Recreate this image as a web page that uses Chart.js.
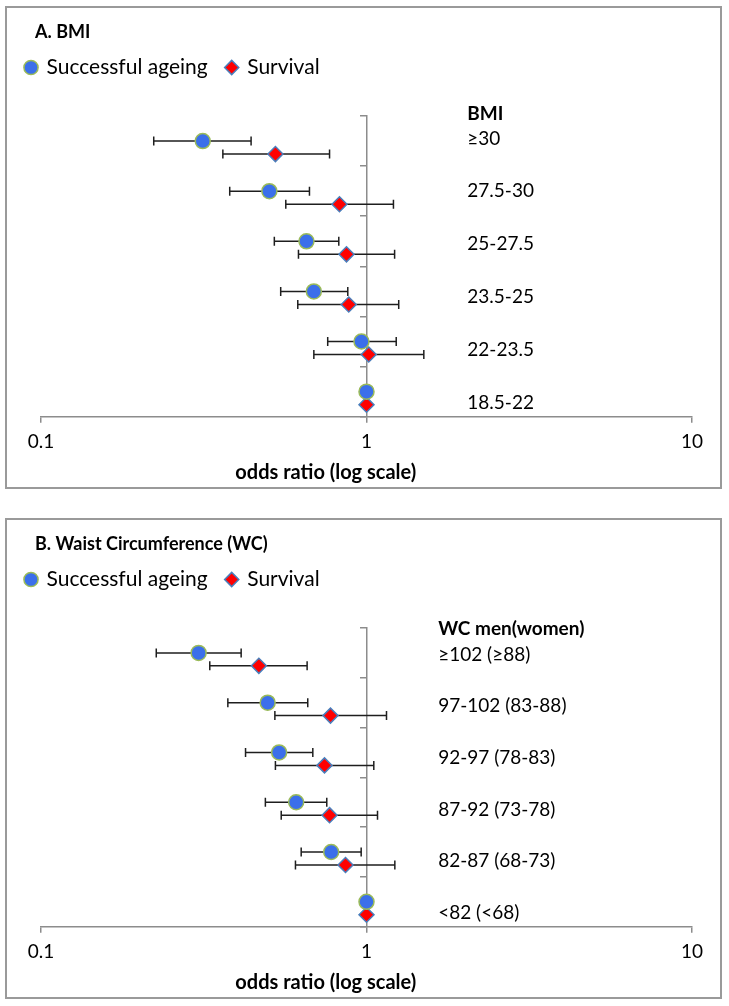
<!DOCTYPE html>
<html>
<head>
<meta charset="utf-8">
<script src="https://cdn.jsdelivr.net/npm/chart.js@4.4.1/dist/chart.umd.min.js"></script>
<style>
  body { margin: 0; background: #fff; width: 729px; height: 1006px; position: relative; }
  .panel { position: absolute; left: 5px; width: 713px; border: 2px solid #9a9a9a; }
  #boxA { top: 6px; height: 479px; }
  #boxB { top: 518px; height: 477px; }
  canvas { display: block; }
</style>
</head>
<body>
<div class="panel" id="boxA"><canvas id="chartA" width="713" height="479"></canvas></div>
<div class="panel" id="boxB"><canvas id="chartB" width="713" height="477"></canvas></div>
<script>
// Odds ratios (log scale) per category, top to bottom
const seriesNames = ['Successful ageing', 'Survival'];
const xTicks = [0.1, 1, 10];
const xTickLabels = ['0.1', '1', '10'];

// A. BMI
const bmiCategories = ['≥30', '27.5-30', '25-27.5', '23.5-25', '22-23.5', '18.5-22'];
const bmiAgeing = [0.314, 0.503, 0.654, 0.689, 0.965, 1];
const bmiAgeingLow = [0.222, 0.380, 0.521, 0.545, 0.760, null];
const bmiAgeingHigh = [0.442, 0.668, 0.822, 0.876, 1.234, null];
const bmiSurvival = [0.525, 0.826, 0.868, 0.882, 1.016, 1];
const bmiSurvivalLow = [0.362, 0.565, 0.618, 0.615, 0.689, null];
const bmiSurvivalHigh = [0.770, 1.21, 1.22, 1.256, 1.50, null];

// B. Waist circumference
const wcCategories = ['≥102 (≥88)', '97-102 (83-88)', '92-97 (78-83)', '87-92 (73-78)', '82-87 (68-73)', '<82 (<68)'];
const wcAgeing = [0.305, 0.497, 0.539, 0.608, 0.779, 1];
const wcAgeingLow = [0.226, 0.375, 0.425, 0.489, 0.630, null];
const wcAgeingHigh = [0.412, 0.660, 0.684, 0.755, 0.963, null];
const wcSurvival = [0.467, 0.775, 0.743, 0.770, 0.862, 1];
const wcSurvivalLow = [0.330, 0.523, 0.525, 0.547, 0.605, null];
const wcSurvivalHigh = [0.657, 1.152, 1.053, 1.081, 1.222, null];

Chart.defaults.font.family = 'Lato, "Open Sans", sans-serif';
Chart.defaults.color = '#000';

const axisGrey = '#8c8c8c';
const barColor = '#1e1e1e';
const styles = [
    { pointStyle: 'circle', backgroundColor: '#3b6fea', borderColor: '#9bbb59', radius: 7.5, rowOffset: 0.5 },
    { pointStyle: 'rectRot', backgroundColor: '#ff0000', borderColor: '#4a7ebb', radius: 7.5, rowOffset: 0.76 }
];

// labels on the right of the axis + heading + axis title
const textPlugin = {
    id: 'panelText',
    afterDraw(chart, args, opts) {
        const { ctx, chartArea } = chart;
        const xs = chart.scales.x, ys = chart.scales.y;
        ctx.save();
        ctx.fillStyle = '#000';
        ctx.textBaseline = 'middle';
        ctx.textAlign = 'left';
        ctx.font = 'bold 18px Lato';
        ctx.fillText(opts.heading, 28, 24);
        ctx.font = 'bold 19px Lato';
        ctx.fillText(opts.header, xs.getPixelForValue(opts.labelX), ys.getPixelForValue(opts.headerY));
        ctx.font = '19px Lato';
        opts.categories.forEach((c, i) => {
            ctx.fillText(c, xs.getPixelForValue(opts.labelX), ys.getPixelForValue(i + opts.labelY0 + i * opts.labelStep));
        });
        ctx.textAlign = 'center';
        ctx.font = 'bold 20px Lato';
        ctx.fillText('odds ratio (log scale)', xs.getPixelForValue(0.75), chartArea.bottom + 56);
        ctx.restore();
    }
};

function buildDatasets(values, lows, highs) {
    const sets = [];
    values.forEach((vals, s) => {
        const st = styles[s];
        sets.push({
            label: seriesNames[s],
            data: vals.map((v, i) => ({ x: v, y: i + st.rowOffset })),
            pointStyle: st.pointStyle,
            backgroundColor: st.backgroundColor,
            borderColor: st.borderColor,
            borderWidth: 1.5,
            pointRadius: st.radius,
            order: 0
        });
        // error bars, one small line per category
        vals.forEach((v, i) => {
            if (lows[s][i] == null) return;
            sets.push({
                label: 'ci',
                data: [{ x: lows[s][i], y: i + st.rowOffset }, { x: highs[s][i], y: i + st.rowOffset }],
                showLine: true,
                borderColor: barColor,
                borderWidth: 1.5,
                pointStyle: 'line',
                pointRotation: 90,
                pointRadius: 4.5,
                pointBorderColor: barColor,
                pointBorderWidth: 1.5,
                order: 1
            });
        });
    });
    return sets;
}

function makeChart(id, cfg) {
    new Chart(document.getElementById(id), {
        type: 'scatter',
        data: { datasets: buildDatasets(cfg.values, cfg.lows, cfg.highs) },
        options: {
            responsive: false,
            animation: false,
            events: [],
            layout: { padding: { top: 30, left: 0, right: 28, bottom: 25.5 } },
            plugins: {
                legend: {
                    position: 'top',
                    align: 'start',
                    labels: {
                        usePointStyle: true,
                        boxWidth: 10,
                        boxHeight: 10,
                        padding: 19,
                        font: { size: 21 },
                        filter: item => item.text !== 'ci'
                    }
                },
                tooltip: { enabled: false },
                panelText: cfg.text
            },
            scales: {
                x: {
                    type: 'logarithmic',
                    min: 0.1,
                    max: 10,
                    afterBuildTicks: s => { s.ticks = xTicks.map(v => ({ value: v })); },
                    ticks: {
                        callback: (v) => xTickLabels[xTicks.indexOf(v)],
                        font: { size: 19 },
                        padding: 8,
                        maxRotation: 0
                    },
                    grid: { drawOnChartArea: false, tickLength: 6, color: axisGrey, lineWidth: 1.5 },
                    border: { color: axisGrey, width: 1.5 }
                },
                y: {
                    type: 'linear',
                    position: { x: 1 },
                    reverse: true,
                    min: 0,
                    max: 6,
                    ticks: { display: false, stepSize: 1 },
                    grid: { drawOnChartArea: false, tickLength: 6, color: axisGrey, lineWidth: 1.5 },
                    border: { color: axisGrey, width: 1.5 }
                },
                padL: {
                    type: 'linear', position: 'left',
                    grid: { display: false }, border: { display: false }, ticks: { display: false },
                    afterFit: s => { s.width = 34; }
                },
                padT: {
                    type: 'linear', position: 'top',
                    grid: { display: false }, border: { display: false }, ticks: { display: false },
                    afterFit: s => { s.height = 28; }
                }
            }
        },
        plugins: [textPlugin]
    });
}

makeChart('chartA', {
    values: [bmiAgeing, bmiSurvival],
    lows: [bmiAgeingLow, bmiSurvivalLow],
    highs: [bmiAgeingHigh, bmiSurvivalHigh],
    text: {
        heading: 'A. BMI', header: 'BMI', categories: bmiCategories,
        labelX: 2.04, headerY: -0.04, labelY0: 0.45, labelStep: 0.053
    }
});

makeChart('chartB', {
    values: [wcAgeing, wcSurvival],
    lows: [wcAgeingLow, wcSurvivalLow],
    highs: [wcAgeingHigh, wcSurvivalHigh],
    text: {
        heading: 'B. Waist Circumference (WC)', header: 'WC men(women)', categories: wcCategories,
        labelX: 1.66, headerY: 0.01, labelY0: 0.53, labelStep: 0.038
    }
});
</script>
</body>
</html>
